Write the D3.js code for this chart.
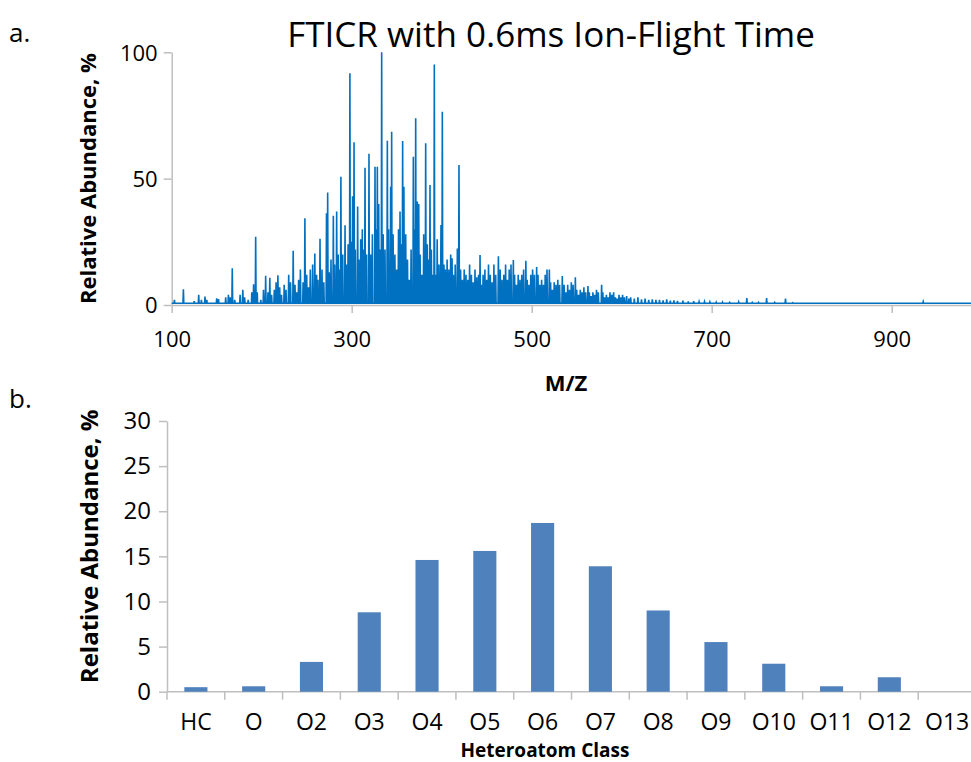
<!DOCTYPE html>
<html><head><meta charset="utf-8">
<script src="https://cdn.jsdelivr.net/npm/d3@7"></script>
<style>
body{margin:0;background:#fff;}
svg{display:block;font-family:"Open Sans","Lato",sans-serif;}
</style></head>
<body>
<svg id="chart" width="971" height="762"></svg>
<script>
// ---------- DATA ----------
const titleText = "FTICR with 0.6ms Ion-Flight Time";
const mzTicks = [100, 300, 500, 700, 900];
const abundanceTicksA = [0, 50, 100];
const baselineLevel = 0.7;
// [m/z, relative abundance %]
const spectrumPeaks = [
[103,2],[113,6.2],[125,1.5],[130,4],[133,2],[137,3.3],[139,2],[150,2.6],[152,2.3],[160,3],[163,4],[165,3],
[167.3,14.5],[170,2],[176,4],[179,6],[181,3],[185,2],[189,5],[191,8.2],[193.3,27],[195,5],[199,2],[202,6],
[204.4,11.6],[207,5],[209,10.8],[211,4],[214,6],[216,9],[218,11.8],[220,7],[222,4],[225,8],[227,6],[230,12],
[232,9],[235,21.5],[237,8],[239,5],[241,10],[243,14],[246,9],[248,34.3],[250,12],[252,7],[254,14],[256.6,16],
[259,20.4],[261,12],[262.5,10],[264.8,26.2],[267,14],[269,9],[272,36.3],[273.3,44.5],[275,13],[277,18],
[279.6,35.3],[281,16],[283.3,37],[285,20],[286.5,14],[288,50.8],[290,20],[292.6,31.6],[294,16],[296,24],
[298,91.7],[299.5,25],[301,43],[302.6,64.4],[304,22],[306.6,39],[308,18],[310,26],[311.8,30],[313,22],
[314.8,54.3],[316.5,20],[319.2,59.9],[321,20],[323,28],[325.9,54.7],[327,30],[328.5,54.7],[330,40],[331.5,22],
[333.3,100],[335,28],[337,22],[339.6,65],[341,30],[343.3,46.8],[344.4,68.6],[346,28],[348,20],[350,14],
[352,30],[353.7,37],[355,24],[356.6,64.9],[358,46.8],[360,28],[362,18],[364,10],[366,22],[368.5,58.7],
[370,30],[371.1,73.9],[372.9,41],[374.5,40],[376,20],[378,12],[380,28],[382.2,64],[384,24],[385.5,18],
[387,47.5],[388.5,22],[390,12],[391.8,95.2],[393.5,12],[395,26],[397,16],[399.2,31.7],[400.7,76.5],[402.5,16],
[404,14],[406,18],[408,14],[410,20],[411.5,18.5],[413,12],[415,16],[417.4,22.4],[419.2,55.4],[421,14],[423,10],
[425,14],[427,12],[429,10],[431,16],[433,12],[435,9],[437,14],[439,11],[441,12],[442.6,19.8],[444,8],[446,12],
[448,14],[450,10],[452,16],[454,12],[456,9],[458,16],[460,12],[463,19.3],[465,14],[467,10],[469,12],[471,16],
[473,10],[475,14],[477,16],[479.6,17.8],[481,12],[483,8],[485,12],[487,10],[489,12],[491,14],[493.5,17.5],
[495,10],[497,8],[499,12],[501,14],[503,12],[505.5,15],[507,12],[509,8],[511,10],[513,8],[515,12],[517,14],
[519.6,14],[521,9],[523,6],[525,9],[527,8],[529,10],[531,8],[534,11.5],[536,8],[538,5],[540,8],[542,6],
[544,9],[546,8],[548.5,11],[550,6],[552,4],[554,6],[556,5],[558,7],[560,5],[562.5,7.5],[564,5],[566,3.5],
[568,5],[570,4],[572,6],[574,5],[577.7,8],[579,5],[581,3],[583,4],[585,3],[587,5],[589,4],[591,5],[593,3],
[595,2.5],[597,4],[599,3],[601,4],[603,3],[605.5,3.5],[608,2.5],[610,3],[614,2.5],[618,3],[622,2.2],[626,2.5],
[630,2],[634,2.2],[638,2],[642,2],[646,1.8],[650,2.2],[654,1.7],[658,1.8],[662,1.6],[668,1.7],[674,1.4],
[680,1.5],[686,1.3],[692,1.3],[698,1.2],[705,1.1],[712,1.1],[720,1.0],[730,1.2],[739,2.7],[745,1.0],[752,1.0],
[761,2.7],[770,1.0],[782,2.5],[790,0.9],[935,1.3]
];

const classes = ["HC","O","O2","O3","O4","O5","O6","O7","O8","O9","O10","O11","O12","O13"];
const classAbundance = [0.5,0.6,3.3,8.8,14.6,15.6,18.7,13.9,9.0,5.5,3.1,0.6,1.6,0];
const abundanceTicksB = [0,5,10,15,20,25,30];

// ---------- LAYOUT ----------
const svg = d3.select("#chart");
const axisColor = "#bfbfbf";
const lineColor = "#0070c0";
const barColor = "#4f81bd";

// Panel a
const xA = d3.scaleLinear().domain([100, 1000]).range([171.7, 981.7]);
const yA = d3.scaleLinear().domain([0, 100]).range([305, 52.3]);

svg.append("text").attr("x", 9).attr("y", 42).attr("font-size", 26).attr("fill", "#000").text("a.");
svg.append("text").attr("x", 551).attr("y", 47).attr("text-anchor", "middle")
  .attr("font-size", 35).attr("fill", "#000").text(titleText);

const gAx = svg.append("g").attr("transform", `translate(0,${yA(0)})`)
  .call(d3.axisBottom(xA).tickValues(mzTicks).tickSizeInner(8).tickSizeOuter(0).tickPadding(18));
const gAy = svg.append("g").attr("transform", `translate(${xA(100)},0)`)
  .call(d3.axisLeft(yA).tickValues(abundanceTicksA).tickSizeInner(8).tickSizeOuter(0).tickPadding(6));
[gAx, gAy].forEach(g => {
  g.selectAll("path,line").attr("stroke", axisColor).attr("stroke-width", 1.5);
  g.selectAll("text").attr("font-size", 22).attr("fill", "#000").attr("font-family", "Open Sans");
});
gAy.selectAll("text").attr("dy", "0.35em");

// spectrum path
const pts = [[100, baselineLevel]];
spectrumPeaks.forEach(([m, h]) => {
  pts.push([m - 0.45, baselineLevel], [m, h], [m + 0.45, baselineLevel]);
});
pts.push([1000, baselineLevel]);
svg.append("path")
  .attr("d", d3.line().x(d => xA(d[0])).y(d => yA(d[1]))(pts))
  .attr("fill", "none").attr("stroke", lineColor).attr("stroke-width", 1.6)
  .attr("stroke-linejoin", "miter");

svg.append("text").attr("transform", `translate(96,${(yA(0)+yA(100))/2}) rotate(-90)`)
  .attr("text-anchor", "middle").attr("font-size", 22).attr("font-weight", "bold")
  .attr("fill", "#000").text("Relative Abundance, %");
svg.append("text").attr("x", 566).attr("y", 391).attr("text-anchor", "middle")
  .attr("font-size", 22).attr("font-weight", "bold").attr("fill", "#000").text("M/Z");

// Panel b
const xB = d3.scaleBand().domain(classes).range([167, 976]).paddingInner(0.6).paddingOuter(0.3);
const yB = d3.scaleLinear().domain([0, 30]).range([691.7, 421]);

svg.append("text").attr("x", 9).attr("y", 408).attr("font-size", 26).attr("fill", "#000").text("b.");

const gBx = svg.append("g").attr("transform", `translate(0,${yB(0)})`)
  .call(d3.axisBottom(xB).tickSize(0).tickPadding(22));
gBx.select(".domain").remove();
gBx.append("line").attr("x1", 167).attr("x2", 976).attr("stroke", axisColor).attr("stroke-width", 1.5);
const step = xB.step();
gBx.selectAll(".sep").data(d3.range(classes.length + 1)).join("line").attr("class", "sep")
  .attr("x1", i => 167 + i * step).attr("x2", i => 167 + i * step)
  .attr("y1", 0).attr("y2", 8).attr("stroke", axisColor).attr("stroke-width", 1.5);
gBx.selectAll("text").attr("font-size", 23).attr("fill", "#000").attr("font-family", "Open Sans");

const gBy = svg.append("g").attr("transform", `translate(167,0)`)
  .call(d3.axisLeft(yB).tickValues(abundanceTicksB).tickSizeInner(8).tickSizeOuter(0).tickPadding(8));
gBy.selectAll("path,line").attr("stroke", axisColor).attr("stroke-width", 1.5);
gBy.selectAll("text").attr("font-size", 24).attr("fill", "#000").attr("font-family", "Open Sans");

svg.append("g").selectAll("rect").data(classes).join("rect")
  .attr("x", d => xB(d)).attr("width", xB.bandwidth())
  .attr("y", (d, i) => yB(classAbundance[i]))
  .attr("height", (d, i) => yB(0) - yB(classAbundance[i]))
  .attr("fill", barColor);

svg.append("text").attr("transform", `translate(98,${(yB(0)+yB(30))/2 - 10}) rotate(-90)`)
  .attr("text-anchor", "middle").attr("font-size", 24).attr("font-weight", "bold")
  .attr("fill", "#000").text("Relative Abundance, %");
svg.append("text").attr("x", 545).attr("y", 757).attr("text-anchor", "middle")
  .attr("font-size", 19).attr("font-weight", "bold").attr("fill", "#000").text("Heteroatom Class");
</script>
</body></html>
